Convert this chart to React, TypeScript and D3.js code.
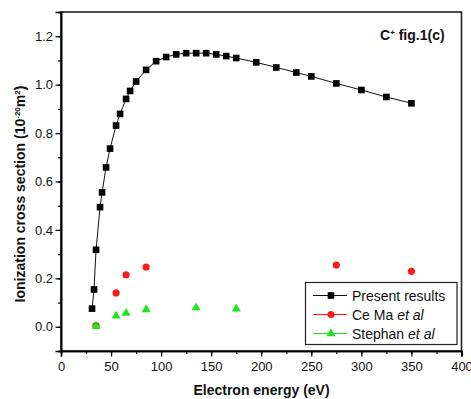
import * as d3 from "d3";
import {useRef, useEffect} from "react";

const presentE = [31, 33, 35, 39, 41, 45, 49, 55, 59, 65, 69, 75, 85, 95, 105, 115, 125, 135, 145, 155, 165, 175, 195, 215, 235, 250, 275, 300, 325, 350];
const presentQ = [0.075, 0.154, 0.318, 0.494, 0.555, 0.658, 0.736, 0.831, 0.879, 0.941, 0.974, 1.013, 1.061, 1.097, 1.114, 1.125, 1.130, 1.130, 1.130, 1.125, 1.118, 1.110, 1.092, 1.071, 1.050, 1.034, 1.005, 0.978, 0.949, 0.923];
const ceMaE = [35, 55, 65, 85, 275, 350];
const ceMaQ = [0.005, 0.14, 0.215, 0.247, 0.255, 0.229];
const stephanE = [35, 55, 65, 85, 135, 175];
const stephanQ = [0.003, 0.045, 0.056, 0.071, 0.079, 0.074];
const xTicks = [0, 50, 100, 150, 200, 250, 300, 350, 400];
const yTicks = [0.0, 0.2, 0.4, 0.6, 0.8, 1.0, 1.2];

const font = "'Liberation Sans', Arial, sans-serif";

export default function App({
  width = 471,
  height = 399,
  marginTop = 12,
  marginRight = 9.5,
  marginBottom = 48,
  marginLeft = 61
}) {
  const gx = useRef(null);
  const gy = useRef(null);
  const x = d3.scaleLinear([0, 400], [marginLeft, width - marginRight]);
  const y = d3.scaleLinear([-0.1, 1.3], [height - marginBottom, marginTop]);
  const line = d3.line<number>((d, i) => x(presentE[i]), (d) => y(d));

  useEffect(() => {
    const g = d3.select(gx.current);
    g.selectAll("*").remove();
    g.append("g").call(d3.axisBottom(x).tickValues(d3.range(0, 401, 25)).tickSize(3).tickFormat(() => ""));
    g.append("g").call(d3.axisBottom(x).tickValues(xTicks).tickSize(5.5).tickPadding(5.5).tickFormat(d3.format("d")));
    g.selectAll(".domain").attr("stroke-width", 1.6);
    g.selectAll("line").attr("stroke-width", 1.2);
    g.selectAll("text").attr("font-family", font).attr("font-size", 13).attr("fill", "#111");
  }, [gx, x]);

  useEffect(() => {
    const g = d3.select(gy.current);
    g.selectAll("*").remove();
    g.append("g").call(d3.axisLeft(y).tickValues(d3.range(-1, 13).map(v => v / 10)).tickSize(3).tickFormat(() => ""));
    g.append("g").call(d3.axisLeft(y).tickValues(yTicks).tickSize(5.5).tickPadding(2.5).tickFormat(d3.format(".1f")));
    g.selectAll(".domain").attr("stroke-width", 1.6);
    g.selectAll("line").attr("stroke-width", 1.2);
    g.selectAll("text").attr("font-family", font).attr("font-size", 13).attr("fill", "#111");
  }, [gy, y]);

  const square = d3.symbol(d3.symbolSquare, 44)();
  const triangle = d3.symbol(d3.symbolTriangle, 36)();
  const lgX = 305.5, lgY = 282.5;

  return (
    <svg width={width} height={height} style={{position: "absolute", left: 0, top: 0, background: "#fff"}}>
      <rect x={marginLeft} y={marginTop} width={width - marginLeft - marginRight} height={height - marginTop - marginBottom} fill="none" stroke="#222" strokeWidth="1.6" />
      <g ref={gx} transform={`translate(0,${height - marginBottom})`} />
      <g ref={gy} transform={`translate(${marginLeft},0)`} />
      <path fill="none" stroke="#111" strokeWidth="1" d={line(presentQ) ?? ""} />
      <g fill="#000">
        {presentQ.map((d, i) => (<path key={i} d={square} transform={`translate(${x(presentE[i])},${y(d)})`} />))}
      </g>
      <g fill="#ff1a1a">
        {ceMaQ.map((d, i) => (<circle key={i} cx={x(ceMaE[i])} cy={y(d)} r="3.6" />))}
      </g>
      <g fill="#1ee61e">
        {stephanQ.map((d, i) => (<path key={i} d={triangle} transform={`translate(${x(stephanE[i])},${y(d)})`} />))}
      </g>
      <text x={380} y={39.5} fontFamily={font} fontWeight="bold" fontSize="14" fill="#111">
        C<tspan dy="-5" fontSize="8">+</tspan><tspan dy="5"> fig.1(c)</tspan>
      </text>
      <g fontFamily={font} fontSize="14" fill="#111">
        <rect x={lgX} y={lgY} width={151.5} height={62} fill="#fff" stroke="#222" strokeWidth="1.2" />
        <line x1={313} x2={347} y1={295.5} y2={295.5} stroke="#111" />
        <path d={square} transform="translate(331,295.5)" fill="#000" />
        <text x={352} y={300.5}>Present results</text>
        <line x1={313} x2={347} y1={314.5} y2={314.5} stroke="#ff1a1a" />
        <circle cx={331} cy={314.5} r="3.6" fill="#ff1a1a" />
        <text x={352} y={319.5}>Ce Ma <tspan fontStyle="italic">et al</tspan></text>
        <line x1={313} x2={347} y1={333.5} y2={333.5} stroke="#1ee61e" />
        <path d={triangle} transform="translate(331,333.5)" fill="#1ee61e" />
        <text x={352} y={338.5}>Stephan <tspan fontStyle="italic">et al</tspan></text>
      </g>
      <text x={261.5} y={395} textAnchor="middle" fontFamily={font} fontWeight="bold" fontSize="14" fill="#111">Electron energy (eV)</text>
      <text transform="translate(25,194) rotate(-90)" textAnchor="middle" fontFamily={font} fontWeight="bold" fontSize="14" fill="#111">
        Ionization cross section (10<tspan dy="-5" fontSize="8">-20</tspan><tspan dy="5">m</tspan><tspan dy="-5" fontSize="8">2</tspan><tspan dy="5">)</tspan>
      </text>
    </svg>
  );
}
